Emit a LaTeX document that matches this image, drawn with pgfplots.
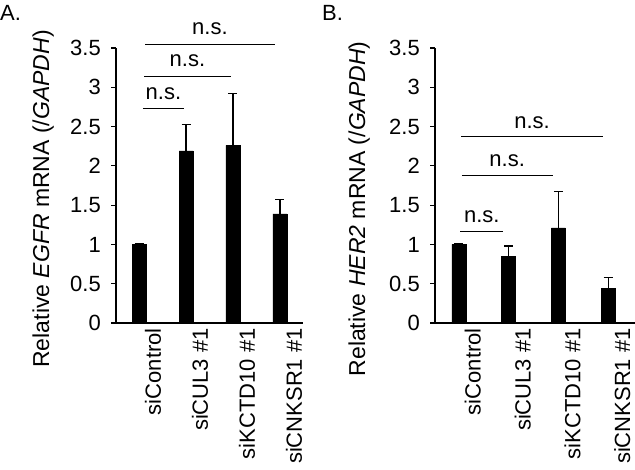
\documentclass[border=0pt]{standalone}
\usepackage{pgfplots}
\pgfplotsset{compat=1.18}
\usepackage{fontspec}
\setmainfont{Liberation Sans}
\newcommand{\bigf}{\fontsize{22bp}{26bp}\selectfont}
\newcommand{\labf}{\fontsize{23bp}{27bp}\selectfont}
\pgfplotsset{
  myax/.style={
    scale only axis, height=275bp, ymin=0, ymax=3.5,
    ytick={0,0.5,1,1.5,2,2.5,3,3.5},
    axis lines=left, axis line style={-, line width=1.5bp, black},
    tick align=outside, major tick length=5bp,
    ytick style={line width=1.2bp, black},
    xtick={0,1,2,3}, xtick style={draw=none},
    xticklabels={siControl, siCUL3 \#1, siKCTD10 \#1, siCNKSR1 \#1},
    xticklabel style={rotate=90, anchor=east, inner sep=0pt, yshift=-14bp, font=\bigf},
    yticklabel style={inner sep=0pt, xshift=-10bp, font=\bigf},
    /pgf/number format/assume math mode=true,
    label style={font=\labf},
    ylabel style={anchor=base},
    clip=false, ybar, bar width=14bp,
  },
  mybar/.style={fill=black, draw=black,
    error bars/.cd, y dir=plus, y explicit,
    error bar style={line width=1.2bp, black},
    error mark options={rotate=90, mark size=4.5bp, line width=1.2bp, black}},
}
\begin{document}
\begin{tikzpicture}[font=\bigf]
\node[anchor=base west, inner sep=0pt] at (0bp,-20bp) {A.};
\node[anchor=base west, inner sep=0pt] at (322bp,-20bp) {B.};
\begin{axis}[myax, width=187bp, xmin=-0.49, xmax=3.49,
  at={(116bp,-323bp)}, anchor=south west,
  ylabel={Relative \textit{EGFR} mRNA (/\textit{GAPDH})},
  ylabel style={at={(axis description cs:-0.358,0.451)}}]
\addplot[mybar] coordinates {(0,1.00) +- (0,0.01) (1,2.19) +- (0,0.34) (2,2.26) +- (0,0.66) (3,1.39) +- (0,0.18)};
\draw[line width=1bp] (axis cs:0.08,2.73) -- (axis cs:0.96,2.73);
\node[anchor=base, inner sep=0pt] at (axis cs:0.52,2.84) {n.s.};
\draw[line width=1bp] (axis cs:0.11,3.14) -- (axis cs:1.95,3.14);
\node[anchor=base, inner sep=0pt] at (axis cs:1.03,3.26) {n.s.};
\draw[line width=1bp] (axis cs:0.13,3.55) -- (axis cs:2.89,3.55);
\node[anchor=base, inner sep=0pt] at (axis cs:1.51,3.67) {n.s.};
\end{axis}
\begin{axis}[myax, width=200bp, xmin=-0.48, xmax=3.54,
  at={(435bp,-323bp)}, anchor=south west,
  ylabel={Relative \textit{HER2} mRNA (/\textit{GAPDH})},
  ylabel style={at={(axis description cs:-0.35,0.415)}}]
\addplot[mybar] coordinates {(0,1.00) +- (0,0.01) (1,0.85) +- (0,0.13) (2,1.21) +- (0,0.46) (3,0.44) +- (0,0.14)};
\draw[line width=1bp] (axis cs:0.03,1.16) -- (axis cs:0.89,1.16);
\node[anchor=base, inner sep=0pt] at (axis cs:0.46,1.28) {n.s.};
\draw[line width=1bp] (axis cs:0.06,1.88) -- (axis cs:1.89,1.88);
\node[anchor=base, inner sep=0pt] at (axis cs:0.97,1.99) {n.s.};
\draw[line width=1bp] (axis cs:0.05,2.38) -- (axis cs:2.89,2.38);
\node[anchor=base, inner sep=0pt] at (axis cs:1.47,2.48) {n.s.};
\end{axis}
\pgfresetboundingbox
\path[use as bounding box] (0,0) rectangle (635bp,-470bp);
\end{tikzpicture}
\end{document}
